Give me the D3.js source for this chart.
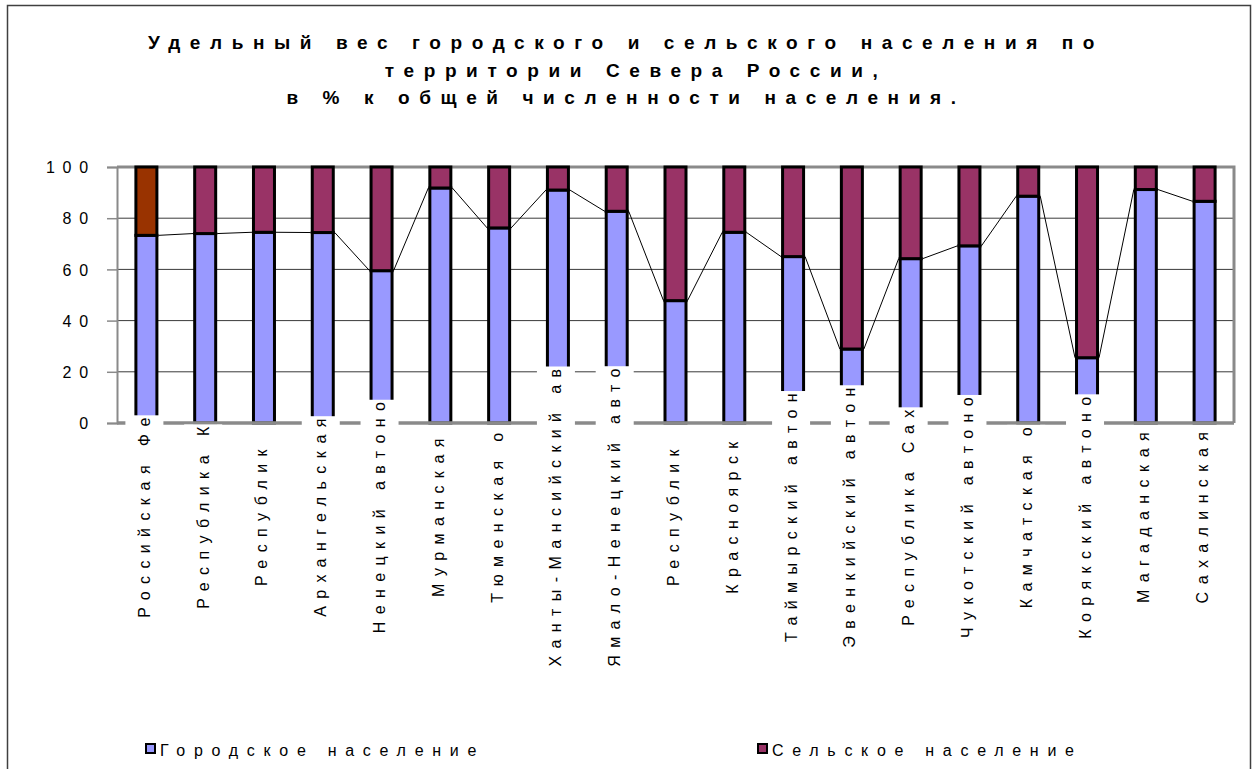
<!DOCTYPE html>
<html>
<head>
<meta charset="utf-8">
<script src="https://cdn.jsdelivr.net/npm/d3@7/dist/d3.min.js"></script>
<style>
  html, body { margin: 0; padding: 0; background: #fff; }
  svg { display: block; font-family: "Liberation Sans", Arial, sans-serif; }
</style>
</head>
<body>
<svg id="chart" width="1257" height="769"></svg>
<script>
// Regions of the Russian North (labels as shown on the axis)
const categories = [
  "Российская Фе", "Республика К", "Республик", "Архангельская",
  "Ненецкий автоно", "Мурманская", "Тюменская о", "Ханты-Мансийский ав",
  "Ямало-Ненецкий авто", "Республик", "Красноярск", "Таймырский автон",
  "Эвенкийский автон", "Республика Сах", "Чукотский автоно", "Камчатская о",
  "Корякский автоно", "Магаданская", "Сахалинская"
];
// Urban population, % of total
const urban = [73.3, 74.0, 74.5, 74.4, 59.5, 91.8, 76.2, 91.0, 82.7, 47.8,
               74.5, 65.0, 28.9, 64.2, 69.2, 88.6, 25.5, 91.2, 86.6];
// Rural population, % of total
const rural = [26.7, 26.0, 25.5, 25.6, 40.5, 8.2, 23.8, 9.0, 17.3, 52.2,
               25.5, 35.0, 71.1, 35.8, 30.8, 11.4, 74.5, 8.8, 13.4];
const seriesNames = ["Городское население", "Сельское население"];
const yTicks = [0, 20, 40, 60, 80, 100];
const titleLines = [
  "Удельный вес городского и сельского населения по",
  "территории Севера России,",
  "в % к общей численности населения."
];

const colors = { urban: "#9999FF", rural: "#993366", ruralFirst: "#993300" };

const svg = d3.select("#chart");
const plot = { left: 117, right: 1234, top: 167, bottom: 423 };

// outer chart frame
svg.append("rect")
  .attr("x", 7.5).attr("y", 5.5).attr("width", 1243).attr("height", 820)
  .attr("fill", "#fff").attr("stroke", "#404040").attr("stroke-width", 1.5);

// title
const title = svg.append("text")
  .attr("text-anchor", "middle")
  .attr("font-weight", "bold")
  .attr("font-size", 19)
  .attr("letter-spacing", 9.6)
  .attr("fill", "#000");
titleLines.forEach((t, i) => {
  title.append("tspan").attr("x", i === 1 ? 636 : 626).attr("y", 49 + i * 27.5).text(t);
});

const x = d3.scaleBand().domain(d3.range(categories.length))
  .range([plot.left, plot.right]).padding(0);
const y = d3.scaleLinear().domain([0, 100]).range([plot.bottom, plot.top]);

// gridlines
svg.append("g").selectAll("line")
  .data(yTicks.filter(t => t > 0 && t < 100))
  .join("line")
  .attr("x1", plot.left).attr("x2", plot.right)
  .attr("y1", d => y(d)).attr("y2", d => y(d))
  .attr("stroke", "#3a3a3a").attr("stroke-width", 1);

// plot border: top and right
svg.append("path")
  .attr("d", `M${plot.left},${plot.top}H${plot.right}V${plot.bottom}`)
  .attr("fill", "none").attr("stroke", "#8a8a8a").attr("stroke-width", 3);

// stacked bars
const rows = categories.map((c, i) => ({ i, urban: urban[i], rural: rural[i] }));
const stack = d3.stack().keys(["urban", "rural"])(rows);
const barW = 21;
const cx = i => x(i) + x.bandwidth() / 2;

stack.forEach(layer => {
  svg.append("g").selectAll("rect")
    .data(layer)
    .join("rect")
    .attr("x", d => cx(d.data.i) - barW / 2)
    .attr("y", d => y(d[1]))
    .attr("width", barW)
    .attr("height", d => y(d[0]) - y(d[1]))
    .attr("fill", d => layer.key === "urban" ? colors.urban
                        : (d.data.i === 0 ? colors.ruralFirst : colors.rural))
    .attr("stroke", "#000").attr("stroke-width", 3);
});

// series lines joining the urban tops of neighbouring bars
const seg = d3.range(categories.length - 1);
svg.append("g").selectAll("line")
  .data(seg)
  .join("line")
  .attr("x1", i => cx(i) + barW / 2 + 1.5).attr("y1", i => y(urban[i]))
  .attr("x2", i => cx(i + 1) - barW / 2 - 1.5).attr("y2", i => y(urban[i + 1]))
  .attr("stroke", "#000").attr("stroke-width", 1);

// value axis
const yAxis = svg.append("g").attr("transform", `translate(${plot.left},0)`)
  .call(d3.axisLeft(y).tickValues(yTicks).tickSize(10).tickFormat(d3.format("d")));
yAxis.select(".domain").attr("stroke", "#8a8a8a").attr("stroke-width", 2);
yAxis.selectAll(".tick line").attr("stroke", "#8a8a8a").attr("stroke-width", 1.5);
yAxis.selectAll(".tick text")
  .attr("font-family", "Liberation Sans, Arial, sans-serif")
  .attr("font-size", 16).attr("letter-spacing", 7.8).attr("fill", "#000")
  .attr("x", -21).attr("dy", "0.35em");

// category axis line
svg.append("line")
  .attr("x1", plot.left).attr("x2", plot.right)
  .attr("y1", plot.bottom).attr("y2", plot.bottom)
  .attr("stroke", "#8a8a8a").attr("stroke-width", 3.5);

// rotated category labels on white boxes
const labelMid = 514;
const lab = svg.append("g").selectAll("g")
  .data(categories)
  .join("g")
  .attr("transform", (d, i) => `translate(${cx(i) - 2},${labelMid}) rotate(-90)`);
lab.append("text")
  .attr("text-anchor", "middle")
  .attr("dominant-baseline", "central")
  .attr("font-size", 16).attr("letter-spacing", 7.4).attr("fill", "#000")
  .text(d => d);
lab.each(function () {
  const g = d3.select(this);
  const b = g.select("text").node().getBBox();
  g.insert("rect", "text")
    .attr("x", b.x - 3).attr("y", -19)
    .attr("width", b.width - 2).attr("height", 38)
    .attr("fill", "#fff");
});

// legend
const legend = svg.append("g");
const legendPos = [146, 758];
seriesNames.forEach((name, k) => {
  const g = legend.append("g").attr("transform", `translate(${legendPos[k]},750)`);
  g.append("rect").attr("x", 0).attr("y", -6).attr("width", 9).attr("height", 9)
    .attr("fill", k === 0 ? colors.urban : colors.rural)
    .attr("stroke", "#000").attr("stroke-width", 2);
  g.append("text").attr("x", 14).attr("y", 5.5)
    .attr("font-size", 16).attr("letter-spacing", 8.7).attr("fill", "#000")
    .text(name);
});
</script>
</body>
</html>
